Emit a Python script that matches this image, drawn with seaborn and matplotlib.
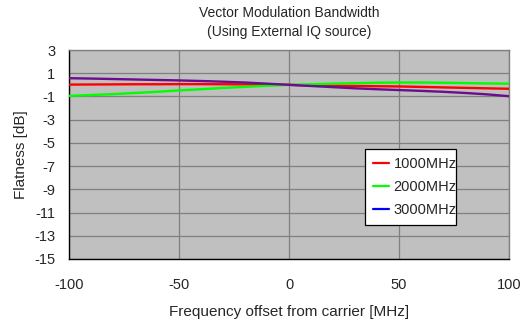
import numpy as np
import pandas as pd
import matplotlib
matplotlib.use("Agg")
import matplotlib.pyplot as plt
import seaborn as sns
from matplotlib.lines import Line2D

freq = [-100, -90, -80, -70, -60, -50, -40, -30, -20, -10, 0, 10, 20, 30, 40, 50, 60, 70, 80, 90, 100]
flat_1000 = [0.02, 0.03, 0.04, 0.05, 0.05, 0.06, 0.06, 0.05, 0.04, 0.02, 0.0, -0.05, -0.08, -0.1, -0.12, -0.14, -0.18, -0.22, -0.26, -0.3, -0.34]
flat_2000 = [-0.95, -0.88, -0.8, -0.7, -0.6, -0.48, -0.38, -0.27, -0.17, -0.08, 0.0, 0.05, 0.1, 0.14, 0.18, 0.2, 0.2, 0.18, 0.15, 0.12, 0.1]
flat_3000 = [0.57, 0.54, 0.5, 0.46, 0.42, 0.38, 0.33, 0.27, 0.2, 0.1, 0.0, -0.1, -0.2, -0.3, -0.38, -0.45, -0.52, -0.6, -0.7, -0.82, -0.98]
series = ["1000MHz", "2000MHz", "3000MHz"]
line_colors = ["#FF0000", "#00FF00", "#6B0D8E"]
legend_colors = ["#FF0000", "#00FF00", "#0000FF"]
yticks = [3, 1, -1, -3, -5, -7, -9, -11, -13, -15]
xticks = [-100, -50, 0, 50, 100]

df = pd.DataFrame({
    "freq": freq * 3,
    "flat": flat_1000 + flat_2000 + flat_3000,
    "series": sum([[s] * len(freq) for s in series], []),
})

sns.set_theme(style="white")
plt.rcParams["font.family"] = ["Liberation Sans", "DejaVu Sans"]

fig = plt.figure(figsize=(5.24, 3.22), dpi=100)
ax = fig.add_axes([69/524, 1 - 259/322, 440/524, 209/322])
ax.set_facecolor("#C0C0C0")

sns.lineplot(data=df, x="freq", y="flat", hue="series", palette=dict(zip(series, line_colors)),
             linewidth=1.7, ax=ax, legend=False, zorder=3)

ax.set_xlim(-100, 100)
ax.set_ylim(-15, 3)
ax.set_xticks(xticks)
ax.set_yticks(yticks)
ax.set_xticklabels([str(t) for t in xticks], fontsize=10.5)
ax.set_yticklabels([str(t) for t in yticks], fontsize=10.5)
ax.grid(True, color="#808080", linewidth=0.9, zorder=1)
ax.set_axisbelow(True)
ax.tick_params(axis="both", direction="in", length=4, width=1, color="black", pad=10)
ax.tick_params(axis="x", pad=14)

for side in ["left", "bottom"]:
    ax.spines[side].set_color("black")
    ax.spines[side].set_linewidth(1.0)
for side in ["top", "right"]:
    ax.spines[side].set_color("#808080")
    ax.spines[side].set_linewidth(1.0)

ax.set_xlabel("Frequency offset from carrier [MHz]", fontsize=11, labelpad=9)
ax.set_ylabel("Flatness [dB]", fontsize=11, labelpad=4)
ax.set_title("Vector Modulation Bandwidth\n(Using External IQ source)", fontsize=10, pad=10, linespacing=1.5)

handles = [Line2D([0], [0], color=c, lw=1.6) for c in legend_colors]
leg = ax.legend(handles, series, loc="lower left", bbox_to_anchor=(0.673, 0.163, 0.207, 0.373),
                mode="expand", frameon=True, fancybox=False, fontsize=10.5, handlelength=1.1,
                handletextpad=0.3, borderpad=0.55, labelspacing=0.62, borderaxespad=0)
leg.get_frame().set_edgecolor("black")
leg.get_frame().set_facecolor("white")
leg.get_frame().set_linewidth(0.9)
leg.get_frame().set_alpha(1)

fig.savefig("out.png", dpi=100, facecolor="white")
